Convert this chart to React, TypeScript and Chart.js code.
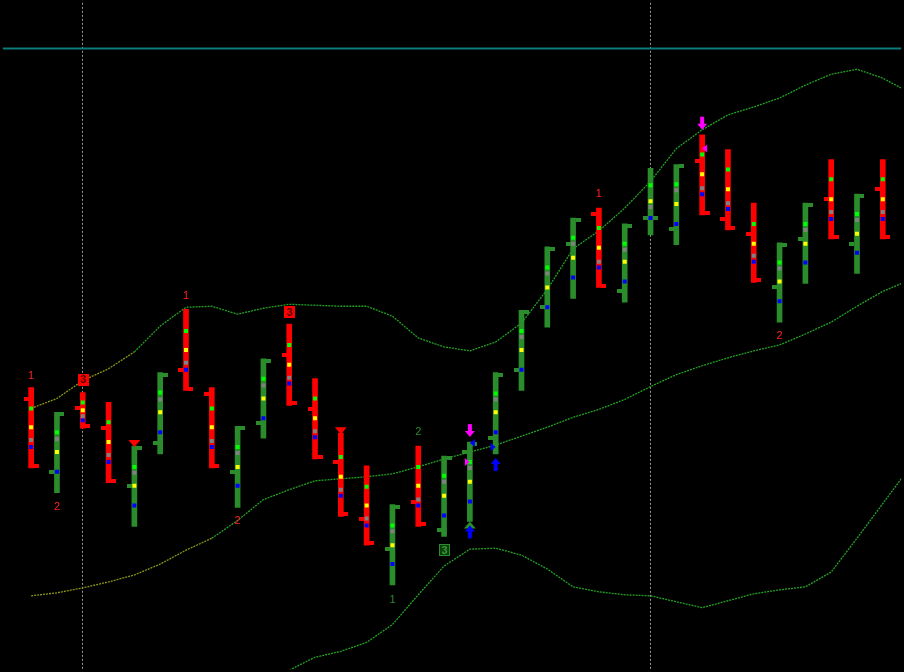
import React, { useEffect, useRef } from "react";
import { Chart, registerables } from "chart.js";

Chart.register(...registerables);

// ---- bar data (price level units, axis reversed: smaller = higher) ----
const highs = [388, 413, 393, 403, 447, 373, 309, 388, 427, 359, 324, 379, 434, 467, 506, 447, 457, 443, 373, 310, 246, 217, 207, 223, 167, 163, 133, 148, 202, 242, 202, 158, 193, 158];
const lows = [469, 494, 429, 484, 528, 455, 391, 469, 509, 439, 406, 460, 518, 547, 587, 528, 538, 523, 455, 391, 327, 298, 287, 302, 234, 244, 214, 229, 282, 322, 283, 238, 273, 238];
const opens = [400, 473, 409, 429, 487, 444, 370, 394, 473, 424, 355, 410, 463, 521, 551, 503, 532, 453, 439, 370, 307, 243, 213, 291, 217, 228, 160, 218, 233, 287, 238, 198, 243, 188];
const closes = [467, 415, 427, 482, 449, 375, 389, 467, 429, 361, 404, 458, 516, 545, 508, 526, 459, 445, 375, 312, 248, 219, 286, 225, 217, 165, 212, 227, 280, 244, 204, 236, 195, 236];
const direction = ["D", "U", "D", "D", "U", "U", "D", "D", "U", "U", "D", "D", "D", "D", "U", "D", "U", "U", "U", "U", "U", "U", "D", "U", "U", "U", "D", "D", "D", "U", "U", "D", "U", "D"];
const greenLv = [409, 433, 403, 423, 468, 393, 331, 409, 448, 379, 345, 399, 458, 488, 527, 468, 477, 463, 394, 331, 267, 237, 227, 243, 184, 183, 153, 168, 223, 262, 223, 178, 213, 178];
const grayLv = [441, 440, 417, 456, 474, 400, 363, 442, 454, 386, 378, 432, 491, 520, 533, 501, 483, 469, 400, 337, 273, 243, 261, 249, 206, 189, 187, 202, 255, 268, 229, 211, 219, 211];
const yellowLv = [428, 453, 411, 443, 487, 413, 350, 428, 468, 399, 365, 419, 478, 507, 547, 487, 497, 483, 413, 350, 287, 257, 247, 261, 200, 203, 173, 188, 243, 281, 243, 198, 233, 198];
const blueLv = [448, 473, 421, 463, 507, 433, 370, 448, 487, 419, 384, 438, 497, 527, 566, 507, 517, 503, 433, 370, 307, 277, 267, 281, 217, 223, 193, 208, 261, 301, 262, 218, 252, 218];

// ---- bands (one more point than bars, runs off the right edge) ----
const upperBand = [409, 399, 381, 369, 352, 326, 307, 306, 314, 308, 304, 305, 306, 306, 316, 338, 347, 351, 342, 323, 289, 248, 230, 207, 180, 147, 128, 113, 105, 96, 83, 72, 67, 76, 90];
const middleBand = [598, 595, 590, 584, 577, 566, 552, 540, 522, 501, 491, 482, 480, 478, 475, 468, 460, 453, 446, 437, 428, 418, 410, 400, 387, 375, 366, 358, 351, 345, 334, 322, 306, 291, 280];
const lowerBand = [null, null, null, null, null, null, null, null, null, 688, 673, 660, 654, 645, 627, 597, 568, 551, 550, 557, 571, 589, 594, 597, 598, 604, 610, 603, 596, 592, 589, 574, 540, 505, 470];

// ---- reference lines ----
const sessionBreaks = [2, 24];
const refLevel = 46;

// ---- count labels ----
const labelIdx = [0, 2, 1, 6, 8, 10, 15, 14, 16, 22, 29];
const labelText = ["1", "3", "2", "1", "2", "3", "2", "1", "3", "1", "2"];
const labelLevel = [376, 380, 508, 296, 523, 312, 433, 602, 552, 193, 336];
const labelBull = [false, false, false, false, false, false, true, true, true, false, false];
const labelBoxed = [false, true, false, false, false, true, false, false, true, false, false];

// ---- signals ----
const warnIdx = [4, 12];
const sellArrowIdx = [17, 26];
const buyArrowIdx = [17, 18];
const bullTriIdx = [17];
const flagIdx = [17, 26, 17, 18];
const flagLevel = [463, 147, 444, 448];
const flagColor = ["#ff00ff", "#ff00ff", "#0000ff", "#0000ff"];
const flagPointsRight = [true, false, false, true];

const RED = "#ff0000";
const GREEN = "#2a8c2a";
const OLIVE = "#8a9418";
const BAND = "#25a025";

const barColor = (i: number) => (direction[i] === "U" ? GREEN : RED);

export default function App() {
  const ref = useRef<HTMLCanvasElement | null>(null);

  useEffect(() => {
    document.body.style.margin = "0";
    document.body.style.background = "#000";
    const canvas = ref.current;
    if (!canvas) return;

    const overlay = {
      id: "overlay",
      beforeDraw(chart: any) {
        const { ctx } = chart;
        ctx.save();
        ctx.fillStyle = "#000";
        ctx.fillRect(0, 0, chart.width, chart.height);
        ctx.restore();
      },
      beforeDatasetsDraw(chart: any) {
        const { ctx, chartArea } = chart;
        const x = chart.scales.x;
        const y = chart.scales.y;
        ctx.save();
        ctx.strokeStyle = "#9a9a9a";
        ctx.lineWidth = 1;
        ctx.setLineDash([2, 2]);
        sessionBreaks.forEach((i) => {
          const px = Math.floor(x.getPixelForValue(i)) + 0.5;
          ctx.beginPath();
          ctx.moveTo(px, chartArea.top);
          ctx.lineTo(px, chartArea.bottom);
          ctx.stroke();
        });
        ctx.setLineDash([]);
        ctx.strokeStyle = "#0f7b7b";
        ctx.lineWidth = 2;
        const py = y.getPixelForValue(refLevel);
        ctx.beginPath();
        ctx.moveTo(chartArea.left, py);
        ctx.lineTo(chartArea.right, py);
        ctx.stroke();
        ctx.restore();
      },
      afterDatasetsDraw(chart: any) {
        const { ctx } = chart;
        const x = chart.scales.x;
        const y = chart.scales.y;
        ctx.save();
        // open / close ticks
        highs.forEach((_, i) => {
          const cx = x.getPixelForValue(i);
          ctx.fillStyle = barColor(i);
          const yo = y.getPixelForValue(opens[i]);
          const yc = y.getPixelForValue(closes[i]);
          ctx.fillRect(Math.round(cx - 7.5), Math.round(yo - 2), 5, 4);
          ctx.fillRect(Math.round(cx + 2.5), Math.round(yc - 2), 5, 4);
        });
        // warning triangles above bar
        ctx.fillStyle = RED;
        warnIdx.forEach((i) => {
          const cx = x.getPixelForValue(i);
          const yt = y.getPixelForValue(highs[i]);
          ctx.beginPath();
          ctx.moveTo(cx - 6, yt - 6);
          ctx.lineTo(cx + 6, yt - 6);
          ctx.lineTo(cx, yt + 1);
          ctx.closePath();
          ctx.fill();
        });
        // bullish up triangles at bar low
        ctx.fillStyle = GREEN;
        bullTriIdx.forEach((i) => {
          const cx = x.getPixelForValue(i);
          const yb = y.getPixelForValue(lows[i]);
          ctx.beginPath();
          ctx.moveTo(cx, yb);
          ctx.lineTo(cx + 6, yb + 7);
          ctx.lineTo(cx - 6, yb + 7);
          ctx.closePath();
          ctx.fill();
        });
        // sell arrows (magenta, down)
        ctx.fillStyle = "#ff00ff";
        sellArrowIdx.forEach((i) => {
          const cx = x.getPixelForValue(i);
          const tip = y.getPixelForValue(highs[i]) - 5;
          ctx.fillRect(cx - 2, tip - 13, 4, 8);
          ctx.beginPath();
          ctx.moveTo(cx - 5, tip - 6);
          ctx.lineTo(cx + 5, tip - 6);
          ctx.lineTo(cx, tip);
          ctx.closePath();
          ctx.fill();
        });
        // buy arrows (blue, up)
        ctx.fillStyle = "#0000ff";
        buyArrowIdx.forEach((i) => {
          const cx = x.getPixelForValue(i);
          const tip = y.getPixelForValue(lows[i]) + 4;
          ctx.beginPath();
          ctx.moveTo(cx, tip);
          ctx.lineTo(cx + 5, tip + 6);
          ctx.lineTo(cx - 5, tip + 6);
          ctx.closePath();
          ctx.fill();
          ctx.fillRect(cx - 2, tip + 5, 4, 8);
        });
        // side flags
        flagIdx.forEach((i, k) => {
          const cx = x.getPixelForValue(i);
          const py = y.getPixelForValue(flagLevel[k]);
          ctx.fillStyle = flagColor[k];
          ctx.beginPath();
          if (flagPointsRight[k]) {
            ctx.moveTo(cx - 5, py - 4);
            ctx.lineTo(cx, py);
            ctx.lineTo(cx - 5, py + 4);
          } else {
            ctx.moveTo(cx + 5, py - 4);
            ctx.lineTo(cx, py);
            ctx.lineTo(cx + 5, py + 4);
          }
          ctx.closePath();
          ctx.fill();
        });
        // count labels
        ctx.textAlign = "center";
        ctx.textBaseline = "middle";
        labelIdx.forEach((i, k) => {
          const cx = x.getPixelForValue(i);
          const py = y.getPixelForValue(labelLevel[k]);
          if (labelBoxed[k]) {
            ctx.font = 'bold 11px "Liberation Sans", Arial, sans-serif';
            if (labelBull[k]) {
              ctx.fillStyle = "#0c3f0c";
              ctx.fillRect(Math.round(cx - 5), Math.round(py - 6), 11, 12);
              ctx.strokeStyle = GREEN;
              ctx.lineWidth = 1;
              ctx.strokeRect(Math.round(cx - 5) + 0.5, Math.round(py - 6) + 0.5, 10, 11);
              ctx.fillStyle = "#3a9a3a";
            } else {
              ctx.fillStyle = RED;
              ctx.fillRect(Math.round(cx - 5), Math.round(py - 6), 11, 12);
              ctx.fillStyle = "#4a0000";
            }
            ctx.fillText(labelText[k], cx + 0.5, py + 0.5);
          } else {
            ctx.font = '11px "Liberation Sans", Arial, sans-serif';
            ctx.fillStyle = labelBull[k] ? GREEN : "#ff2020";
            ctx.fillText(labelText[k], cx, py);
          }
        });
        ctx.restore();
      },
    };

    const idx = highs.map((_, i) => i);
    const dotSet = (vals: number[], color: string) => ({
      type: "scatter" as const,
      data: vals.map((v, i) => ({ x: i, y: v })),
      pointStyle: "rect",
      pointRadius: 2.83,
      pointHoverRadius: 2.83,
      pointBorderWidth: 0,
      backgroundColor: color,
      borderColor: color,
      showLine: false,
      order: 1,
    });
    const bandSet = (vals: (number | null)[], oliveUntil: number) => ({
      type: "line" as const,
      data: vals.map((v, i) => ({ x: i, y: v })),
      borderColor: BAND,
      borderWidth: 1.3,
      borderDash: [2, 1],
      pointRadius: 0,
      tension: 0,
      fill: false,
      spanGaps: false,
      segment: {
        borderColor: (c: any) => (c.p0DataIndex < oliveUntil ? OLIVE : BAND),
      },
      order: 10,
    });

    const chart = new Chart(canvas, {
      type: "bar",
      data: {
        datasets: [
          {
            type: "bar",
            data: idx.map((i) => ({ x: i, y: [highs[i], lows[i]] })) as any,
            backgroundColor: idx.map(barColor),
            barThickness: 5,
            borderWidth: 0,
            borderSkipped: false,
            grouped: false,
            order: 5,
          } as any,
          dotSet(greenLv, "#00ff00"),
          dotSet(grayLv, "#808080"),
          dotSet(yellowLv, "#ffff00"),
          dotSet(blueLv, "#0000ff"),
          bandSet(upperBand, 4),
          bandSet(middleBand, 7),
          bandSet(lowerBand, 0),
        ] as any,
      },
      options: {
        animation: false,
        responsive: false,
        maintainAspectRatio: false,
        layout: { padding: 0 },
        events: [],
        plugins: { legend: { display: false }, tooltip: { enabled: false } },
        scales: {
          x: { type: "linear", display: false, min: -1.0974, max: 33.712, offset: false },
          y: { type: "linear", display: false, reverse: true, min: 0, max: 672, beginAtZero: false },
        },
      },
      plugins: [overlay],
    });

    return () => chart.destroy();
  }, []);

  return (
    <div style={{ width: 904, height: 672, background: "#000" }}>
      <canvas ref={ref} width={904} height={672} style={{ display: "block" }} />
    </div>
  );
}
